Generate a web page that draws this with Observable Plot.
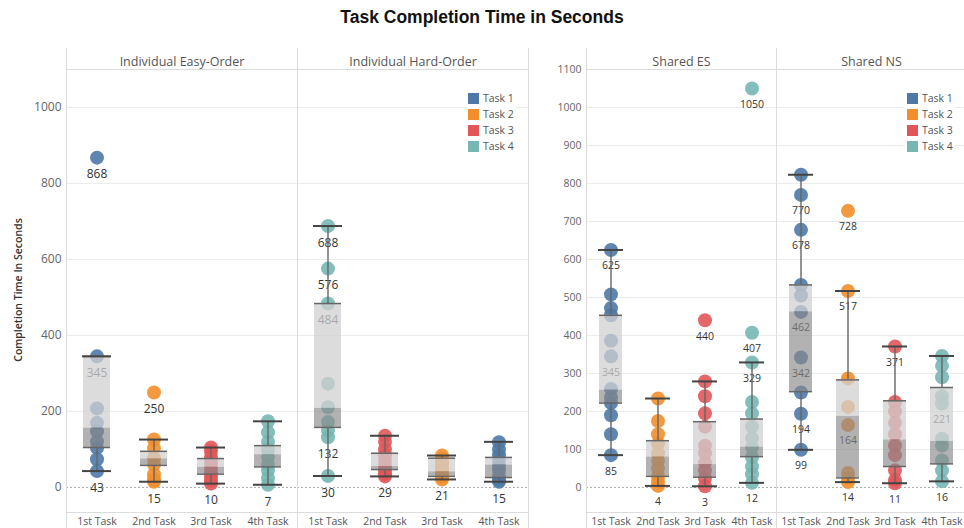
<!DOCTYPE html>
<html><head><meta charset="utf-8">
<script src="https://cdn.jsdelivr.net/npm/d3@7"></script>
<script src="https://cdn.jsdelivr.net/npm/@observablehq/plot@0.6"></script>
<style>
html,body{margin:0;padding:0;background:#fff;overflow:hidden;}
#root{position:relative;width:964px;height:528px;overflow:hidden;font-family:"Open Sans",sans-serif;}
#title{position:absolute;left:0;top:7px;width:964px;text-align:center;font:bold 17.5px "Liberation Sans",Arial,sans-serif;color:#111;}
.chart{position:absolute;top:40px;}
.chart svg{max-width:none !important;}
#ytitle{position:absolute;left:18px;top:290px;transform:translate(-50%,-50%) rotate(-90deg);white-space:nowrap;font-size:10.5px;font-weight:600;color:#333;}
.legend{position:absolute;background:#fff;font-size:10.5px;color:#555;padding:1px 2px;}
.legend .row{height:16px;display:flex;align-items:center;}
.legend .sw{width:11px;height:11px;margin-right:4px;display:inline-block;}
</style></head><body>
<div id="root">
  <div id="title">Task Completion Time in Seconds</div>
  <div id="left" class="chart" style="left:0px;width:530px"></div>
  <div id="right" class="chart" style="left:530px;width:440px"></div>
  <div id="ytitle">Completion Time In Seconds</div>
  <div id="legendL" class="legend" style="left:466px;top:89px"></div>
  <div id="legendR" class="legend" style="left:905px;top:89px"></div>
</div>
<script>
const scenarios = ["Individual Easy-Order","Individual Hard-Order","Shared ES","Shared NS"];
const positions = ["1st Task","2nd Task","3rd Task","4th Task"];
const tasks = ["Task 1","Task 2","Task 3","Task 4"];
const taskColors = ["#4e79a7","#f28e2b","#e15759","#76b7b2"];

// task shown at each position
const easyTasks = ["Task 1","Task 2","Task 3","Task 4"];
const hardTasks = ["Task 4","Task 3","Task 2","Task 1"];
const sharedESTasks = ["Task 1","Task 2","Task 3","Task 4"];
const sharedNSTasks = ["Task 1","Task 2","Task 3","Task 4"];

// completion times (s) per position
const easyTimes = [
  [868,345,208,170,148,121,104,74,43],
  [250,126,104,77,60,34,21,15],
  [105,95,80,65,50,38,28,18,10],
  [174,145,120,100,80,60,45,25,7]
];
const hardTimes = [
  [688,576,484,273,211,172,150,132,30],
  [136,120,100,85,70,55,45,35,29],
  [84,75,65,55,45,35,27,21],
  [119,100,85,70,55,45,30,20,15]
];
const sharedESTimes = [
  [625,508,472,453,386,345,259,237,222,190,140,85],
  [234,175,140,115,90,70,50,30,15,4],
  [440,279,240,195,160,110,90,65,45,25,3],
  [1050,407,329,225,195,160,130,105,80,55,35,12]
];
const sharedNSTimes = [
  [823,770,678,533,505,462,342,250,194,99],
  [728,517,287,212,164,38,25,14],
  [371,225,200,170,140,110,85,45,20,11],
  [346,320,290,240,221,128,110,71,45,16]
];

// box stats: [whisker low, Q1, median, Q3, whisker high]
const easyBoxes = [[43,105,156,345,345],[15,58,75,95,126],[10,35,53,76,105],[7,54,86,110,174]];
const hardBoxes = [[30,158,208,484,688],[29,47,55,90,136],[21,29,41,77,84],[15,26,59,79,120]];
const sharedESBoxes = [[85,222,256,453,625],[4,29,80,123,234],[3,27,60,173,279],[12,81,106,180,329]];
const sharedNSBoxes = [[99,252,462,533,823],[14,25,187,283,517],[11,55,125,228,371],[16,62,121,263,346]];

// labelled values
const easyLabels = [[868,345,43],[250,15],[10],[7]];
const hardLabels = [[688,576,484,132,30],[29],[21],[15]];
const sharedESLabels = [[625,345,85],[4],[440,3],[1050,407,329,12]];
const sharedNSLabels = [[770,678,462,342,194,99],[728,517,164,14],[371,11],[221,16]];

const leftTicks = [0,200,400,600,800,1000];
const rightTicks = [0,100,200,300,400,500,600,700,800,900,1000,1100];

const taskSets = [easyTasks, hardTasks, sharedESTasks, sharedNSTasks];
const timeSets = [easyTimes, hardTimes, sharedESTimes, sharedNSTimes];
const boxSets = [easyBoxes, hardBoxes, sharedESBoxes, sharedNSBoxes];
const labelSets = [easyLabels, hardLabels, sharedESLabels, sharedNSLabels];

const dotRows = [], boxRows = [], labelRows = [];
scenarios.forEach((s, i) => {
  timeSets[i].forEach((vals, j) => vals.forEach(v => dotRows.push({scenario: s, position: positions[j], task: taskSets[i][j], time: v})));
  boxSets[i].forEach(([lo, q1, med, q3, hi], j) => boxRows.push({scenario: s, position: positions[j], lo, q1, med, q3, hi}));
  labelSets[i].forEach((vals, j) => vals.forEach(v => labelRows.push({scenario: s, position: positions[j], time: v})));
});

function panel(facets, opt) {
  const inF = d => facets.includes(d.scenario);
  const dots = dotRows.filter(inF), boxes = boxRows.filter(inF), labs = labelRows.filter(inF);
  const F = {fx: "scenario", x: "position"};
  const ins = {insetLeft: opt.inset, insetRight: opt.inset};
  return Plot.plot({
    width: opt.width, height: 510,
    marginLeft: opt.marginLeft, marginRight: opt.marginRight, marginTop: 29, marginBottom: 38,
    style: {fontFamily: "Open Sans, sans-serif", background: "transparent", maxWidth: "none"},
    fx: {domain: facets, padding: 0},
    x: {domain: positions, padding: 0},
    y: {domain: [-66, 1100]},
    color: {domain: tasks, range: taskColors},
    marks: [
      Plot.gridY(opt.ticks.filter(t => t !== 0), {stroke: "#ebebeb", strokeOpacity: 1}),
      Plot.ruleY([0], {stroke: "#aaa", strokeDasharray: "2,2"}),
      Plot.frame({anchor: "top", stroke: "#dcdcdc"}),
      Plot.frame({anchor: "bottom", stroke: "#dcdcdc"}),
      Plot.frame({anchor: "left", stroke: "#dcdcdc", insetTop: -21, insetBottom: -30}),
      Plot.frame({anchor: "right", stroke: "#dcdcdc", insetTop: -21, insetBottom: -30}),
      Plot.axisFx({anchor: "top", label: null, tickSize: 0, tickPadding: 4, fontSize: 12.5, fill: "#555"}),
      Plot.axisX({anchor: "bottom", label: null, tickSize: 0, tickPadding: 5, fontSize: 10.5, fill: "#555"}),
      Plot.axisY({ticks: opt.ticks, tickFormat: d => String(d), label: null, tickSize: 0, tickPadding: 5, fontSize: opt.tickFont, fill: "#666"}),
      Plot.dot(dots, {...F, y: "time", fill: "task", r: 7, fillOpacity: 0.9}),
      Plot.text(labs, {...F, y: "time", text: d => String(d.time), dy: opt.labelDy, fill: "#333", fontSize: opt.labelFont}),
      Plot.ruleX(boxes, {...F, y1: "q3", y2: "hi", stroke: "#666", strokeWidth: 1.4}),
      Plot.ruleX(boxes, {...F, y1: "lo", y2: "q1", stroke: "#666", strokeWidth: 1.4}),
      Plot.barY(boxes, {...F, y1: "med", y2: "q3", fill: "#d0d0d0", fillOpacity: 0.75, ...ins}),
      Plot.barY(boxes, {...F, y1: "q1", y2: "med", fill: "#888", fillOpacity: 0.65, ...ins}),
      Plot.tickY(boxes, {...F, y: "q3", stroke: "#666", strokeWidth: 1.5, ...ins}),
      Plot.tickY(boxes, {...F, y: "q1", stroke: "#666", strokeWidth: 1.5, ...ins}),
      Plot.tickY(boxes, {...F, y: "hi", stroke: "#444", strokeWidth: 2, insetLeft: opt.inset - 1, insetRight: opt.inset - 1}),
      Plot.tickY(boxes, {...F, y: "lo", stroke: "#444", strokeWidth: 2, insetLeft: opt.inset - 1, insetRight: opt.inset - 1})
    ]
  });
}

document.getElementById("left").append(panel(scenarios.slice(0, 2), {
  width: 530, marginLeft: 65, marginRight: 2, inset: 15, ticks: leftTicks, tickFont: 12, labelFont: 12, labelDy: 17
}));
document.getElementById("right").append(panel(scenarios.slice(2, 4), {
  width: 440, marginLeft: 55, marginRight: 4, inset: 12, ticks: rightTicks, tickFont: 10.5, labelFont: 10.5, labelDy: 16
}));

for (const id of ["legendL", "legendR"]) {
  const el = document.getElementById(id);
  tasks.forEach((t, i) => {
    const row = document.createElement("div");
    row.className = "row";
    const sw = document.createElement("span");
    sw.className = "sw";
    sw.style.background = taskColors[i];
    row.append(sw, document.createTextNode(t));
    el.append(row);
  });
}
</script>
</body></html>
